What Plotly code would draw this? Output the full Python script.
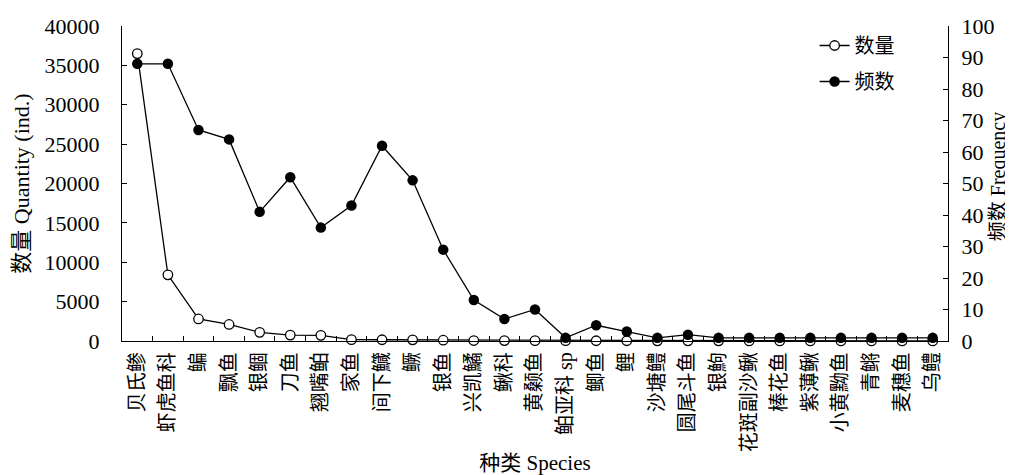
import plotly.graph_objects as go

species = ["贝氏鲹", "虾虎鱼科", "鳊", "飘鱼", "银鲴", "刀鱼", "翘嘴鲌", "家鱼", "间下鱵", "鳜",
           "银鱼", "兴凯鱊", "鳅科", "黄颡鱼", "鲌亚科 sp", "鲫鱼", "鲤", "沙塘鳢", "圆尾斗鱼", "银鮈",
           "花斑副沙鳅", "棒花鱼", "紫薄鳅", "小黄黝鱼", "青鳉", "麦穗鱼", "乌鳢"]

quantity = [36500, 8400, 2800, 2100, 1100, 750, 720, 170, 160, 150,
            100, 60, 50, 40, 40, 30, 30, 20, 20, 20,
            15, 15, 10, 10, 10, 10, 10]
frequency = [88, 88, 67, 64, 41, 52, 36, 43, 62, 51,
             29, 13, 7, 10, 1, 5, 3, 1, 2, 1,
             1, 1, 1, 1, 1, 1, 1]

y_left_ticks = list(range(0, 40001, 5000))
y_right_ticks = list(range(0, 101, 10))

serif = "Liberation Serif, Times New Roman, Noto Sans CJK SC, serif"

fig = go.Figure()
fig.add_trace(go.Scatter(
    x=species, y=quantity, name="数量", mode="lines+markers", legendgroup="q",
    line=dict(color="black", width=1.3),
    marker=dict(symbol="circle", size=9.5, color="white", line=dict(color="black", width=1.3)),
    cliponaxis=False, yaxis="y"))
fig.add_trace(go.Scatter(
    x=species, y=frequency, name="频数", mode="lines+markers", legendgroup="f",
    line=dict(color="black", width=1.3),
    marker=dict(symbol="circle", size=10.5, color="black"),
    cliponaxis=False, yaxis="y2"))

fig.update_layout(
    width=1013, height=475,
    margin=dict(l=114, r=73, t=18, b=142),
    paper_bgcolor="white", plot_bgcolor="white",
    font=dict(family=serif, size=21, color="black"),
    showlegend=True,
    legend=dict(x=0.8385, y=1.0, xanchor="left", yanchor="top",
                bgcolor="rgba(0,0,0,0)", font=dict(size=20), tracegroupgap=7),
    xaxis=dict(type="category", showline=True, linecolor="black", linewidth=1.3,
               ticks="inside", tickson="boundaries", ticklen=5, tickcolor="black",
               tickangle=-90, tickfont=dict(size=20), ticklabelstandoff=2,
               showgrid=False, zeroline=False, automargin=False,
               range=[-0.5, len(species) - 0.5],
               title=dict(text="种类 Species", font=dict(size=21), standoff=4)),
    yaxis=dict(range=[0, 40000], tickvals=y_left_ticks, tickformat="d", showline=True,
               linecolor="black", linewidth=1.3, ticks="inside", ticklen=5, tickcolor="black",
               tickfont=dict(size=22), ticklabelstandoff=17, automargin=False,
               showgrid=False, zeroline=False,
               title=dict(text="数量 Quantity (ind.)", font=dict(size=22), standoff=8)),
    yaxis2=dict(range=[0, 100], tickvals=y_right_ticks, overlaying="y", side="right",
                showline=True, linecolor="black", linewidth=1.3, ticks="inside", ticklen=5,
                tickcolor="black", tickfont=dict(size=22), ticklabelstandoff=8,
                automargin=False, showgrid=False, zeroline=False),
    annotations=[dict(text="频数 Frequency", xref="paper", yref="paper",
                      x=(990 - 114) / 826, y=0.52, textangle=-90, showarrow=False,
                      xanchor="center", yanchor="middle", font=dict(size=20))],
)

fig.write_html("out.html")
